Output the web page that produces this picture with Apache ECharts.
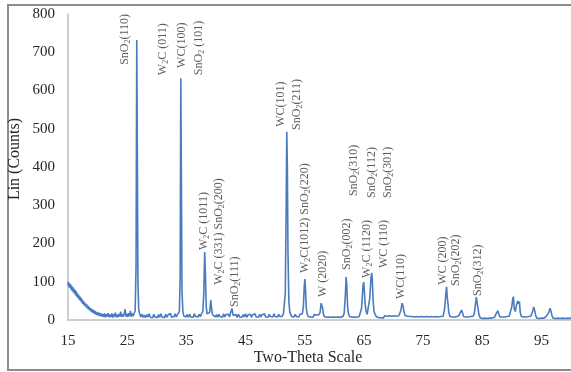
<!DOCTYPE html>
<html>
<head>
<meta charset="utf-8">
<script src="https://cdn.jsdelivr.net/npm/echarts@6/dist/echarts.min.js"></script>
<style>
  html, body { margin: 0; padding: 0; background: #ffffff; }
  #chart { width: 571px; height: 372px; }
</style>
</head>
<body>
<div id="chart"></div>
<script>
// XRD scan: [two-theta (deg), counts]
const scanLow = [
  [15.0,100],[15.1,88],[15.2,97],[15.3,84],[15.4,94],[15.5,80],[15.6,90],[15.7,76],[15.8,86],[15.9,72],
  [16.0,82],[16.1,69],[16.2,78],[16.3,64],[16.4,75],[16.5,61],[16.6,70],[16.7,57],[16.8,66],[16.9,53],
  [17.0,62],[17.1,50],[17.2,58],[17.3,46],[17.4,54],[17.5,42],[17.6,50],[17.7,39],[17.8,46],[17.9,36],
  [18.0,43],[18.1,33],[18.2,40],[18.3,30],[18.4,37],[18.5,27],[18.6,34],[18.7,25],[18.8,31],[18.9,22],
  [19.0,29],[19.1,20],[19.2,27],[19.3,18],[19.4,25],[19.5,16],[19.6,23],[19.7,14],[19.8,21],[19.9,13],
  [20.0,20],[20.15,12],[20.3,19],[20.45,10],[20.6,17],[20.75,9],[20.9,16],[21.05,8],[21.2,17],[21.35,7],
  [21.5,15],[21.65,9],[21.8,18],[21.95,7],[22.1,14],[22.25,8],[22.4,17],[22.55,6],[22.7,15],[22.85,9],
  [23.0,19],[23.15,7],[23.3,14],[23.45,8],[23.6,16],[23.75,9],[23.9,22],[24.05,8],[24.2,15],[24.35,9],
  [24.5,17],[24.65,28],[24.8,9],[24.95,16],[25.1,8],[25.25,18],[25.4,10],[25.55,24],[25.7,9],[25.85,17],
  [26.0,10],[26.15,15],[26.35,24],[26.5,140],[26.62,732],[26.72,430],[26.82,95],[26.95,28],[27.1,17],[27.3,8],
  [27.5,15],[27.7,7],[27.9,13],[28.1,6],[28.3,14],[28.5,8],[28.7,16],[28.9,7],[29.1,12],[29.3,6],
  [29.5,15],[29.7,8],[29.9,13]
];
const scanMid = [
  [30.1,6],[30.3,14],[30.5,7],[30.7,16],[30.9,8],[31.1,12],[31.3,6],[31.5,15],[31.7,7],[31.9,13],
  [32.1,8],[32.3,17],[32.5,7],[32.7,12],[32.9,9],[33.1,16],[33.3,8],[33.5,14],[33.7,12],[33.82,22],
  [33.95,110],[34.06,632],[34.16,380],[34.26,80],[34.4,24],[34.55,11],[34.75,16],[34.95,8],[35.15,14],[35.35,7],
  [35.55,15],[35.75,8],[35.95,13],[36.15,7],[36.35,16],[36.55,9],[36.75,14],[36.95,8],[37.15,15],[37.35,9],
  [37.55,16],[37.78,22],[37.95,70],[38.1,178],[38.22,120],[38.36,35],[38.5,16],[38.7,12],[38.95,20],[39.12,52],
  [39.27,30],[39.42,14],[39.55,9],[39.7,16],[39.9,8],[40.1,14],[40.3,7],[40.5,15],[40.7,9],[40.9,13],
  [41.1,7],[41.3,16],[41.5,8],[41.7,14],[41.9,9],[42.1,15],[42.3,8],[42.45,18],[42.6,14],[42.72,30],
  [42.9,12],[43.05,16],[43.2,8],[43.4,14],[43.6,7],[43.8,15],[44.0,8],[44.2,13],[44.4,7],[44.6,14],
  [44.8,8],[45.0,16],[45.2,7],[45.4,13],[45.6,8],[45.8,15],[46.0,7],[46.2,14],[46.4,9],[46.6,16],
  [46.8,8],[47.0,13],[47.2,7],[47.4,15],[47.6,8],[47.8,14],[48.0,9],[48.2,16],[48.4,8],[48.6,13],
  [48.8,7],[49.0,15],[49.2,9],[49.4,14],[49.6,8],[49.8,16],[50.0,9],[50.2,13],[50.4,8],[50.6,15],
  [50.8,9],[51.0,14],[51.2,10],[51.4,16],[51.55,20],[51.72,70],[51.87,300],[51.97,492],[52.07,400],[52.17,180],
  [52.32,50],[52.47,22],[52.6,16],[52.8,9],[53.0,14],[53.2,8],[53.4,15],[53.6,9],[53.8,13],[54.0,8],
  [54.2,15],[54.4,10],[54.6,16],[54.78,35],[54.93,90],[55.03,107],[55.13,80],[55.28,30],[55.43,15],[55.6,9],
  [55.8,14],[56.0,8],[56.2,13],[56.4,7],[56.6,14],[56.8,9],[57.0,13],[57.2,8],[57.4,14],[57.6,20],
  [57.78,44],[57.9,47],[58.02,32],[58.18,15],[58.3,9],[58.5,14],[58.7,7],[58.9,12],[59.1,8],[59.3,13],
  [59.5,7],[59.7,12],[59.9,8]
];
const scanHigh = [
  [60.1,13],[60.3,7],[60.5,12],[60.7,8],[60.9,13],[61.1,7],[61.3,12],[61.5,10],[61.67,18],[61.85,60],
  [62.0,112],[62.1,95],[62.25,35],[62.4,16],[62.6,9],[62.8,13],[63.0,7],[63.2,12],[63.4,8],[63.6,13],
  [63.8,7],[64.0,12],[64.2,9],[64.4,14],[64.6,30],[64.85,90],[64.98,99],[65.08,75],[65.22,40],[65.38,22],
  [65.55,15],[65.75,20],[65.98,55],[66.2,110],[66.32,123],[66.42,108],[66.56,50],[66.72,22],[66.9,15],[67.1,9],
  [67.3,12],[67.5,6],[67.7,11],[67.9,6],[68.1,10],[68.3,5],[68.5,11],[68.7,6],[68.9,10],[69.1,5],
  [69.3,11],[69.5,6],[69.7,10],[69.9,5],[70.1,11],[70.3,6],[70.5,10],[70.7,7],[70.9,11],[71.05,13],
  [71.25,25],[71.45,44],[71.6,38],[71.75,24],[71.95,12],[72.15,7],[72.35,10],[72.55,5],[72.75,9],[72.95,4],
  [73.15,9],[73.35,5],[73.55,8],[73.75,4],[73.95,9],[74.15,5],[74.35,8],[74.55,4],[74.75,9],[74.95,5],
  [75.15,8],[75.35,4],[75.55,9],[75.75,5],[75.95,8],[76.15,4],[76.35,9],[76.55,5],[76.75,8],[76.95,4],
  [77.15,9],[77.35,5],[77.55,8],[77.75,4],[77.95,9],[78.15,6],[78.4,10],[78.65,30],[78.85,70],[78.98,87],
  [79.08,60],[79.2,45],[79.35,20],[79.55,9],[79.75,5],[79.95,8],[80.15,4],[80.35,8],[80.55,5],[80.75,9],
  [80.95,7],[81.1,12],[81.25,18],[81.5,26],[81.65,20],[81.85,9],[82.05,5],[82.25,8],[82.45,4],[82.65,8],
  [82.85,5],[83.05,9],[83.25,6],[83.45,10],[83.65,16],[83.85,40],[84.0,60],[84.12,58],[84.25,34],[84.45,14],
  [84.65,6],[84.85,9],[85.05,4],[85.25,8],[85.45,5],[85.65,9],[85.85,4],[86.05,8],[86.25,5],[86.45,9],
  [86.65,5],[86.85,9],[87.05,7],[87.2,11],[87.4,18],[87.62,24],[87.8,16],[88.0,8],[88.2,5],[88.4,8],
  [88.6,4],[88.8,8],[89.0,5],[89.2,9],[89.4,6],[89.55,10],[89.75,15],[90.0,35],[90.15,55],[90.27,61],
  [90.4,30],[90.58,22],[90.8,40],[91.02,50],[91.14,42],[91.28,48],[91.42,20],[91.62,9],[91.82,5],[92.02,8],
  [92.22,4],[92.42,8],[92.62,5],[92.82,9],[93.02,6],[93.2,10],[93.35,14],[93.5,22],[93.7,34],[93.85,26],
  [94.05,11],[94.25,5],[94.45,8],[94.65,4],[94.85,8],[95.05,5],[95.25,9],[95.45,5],[95.65,8],[95.85,10],
  [96.05,13],[96.25,20],[96.45,31],[96.6,24],[96.8,11],[97.0,5],[97.2,8],[97.4,4],[97.6,8],[97.8,5],
  [98.0,8],[98.2,4],[98.4,8],[98.6,5],[98.8,8],[99.0,4],[99.2,8],[99.4,5],[99.6,7],[99.8,4],[100.0,6]
];

// Phase annotations ({s|..} marks a subscript) and where each one starts (two-theta, counts)
const peakNames = [
  'SnO{s|2}(110)', 'W{s|2}C (011)', 'WC(100)', 'SnO{s|2} (101)', 'W{s|2}C (1011)',
  'W{s|2}C (331) SnO{s|2}(200)', 'SnO{s|2}(111)', 'WC(101)', 'SnO{s|2}(211)',
  'W{s|2}C(1012) SnO{s|2}(220)', 'W (2020)', 'SnO{s|2}(002)', 'SnO{s|2}(310)', 'W{s|2}C (1120)',
  'SnO{s|2}(112)', 'WC (110)', 'SnO{s|2}(301)', 'WC(110)', 'WC (200)', 'SnO{s|2}(202)', 'SnO{s|2}(312)'
];
const peakNameTheta = [
  24.63, 31.05, 34.26, 37.14, 37.98,
  40.52, 43.22, 50.99, 53.70,
  55.05, 58.09, 62.14, 63.33, 65.52,
  66.37, 68.40, 69.07, 71.27, 78.37, 80.56, 84.28
];
const peakNameCounts = [
  667, 640, 659, 640, 183,
  92, 34, 505, 497,
  123, 60, 131, 324, 110,
  319, 136, 319, 55, 92, 89, 63
];

const xTicks = { min: 15, max: 100, step: 10 };
const yTicks = { min: 0, max: 800, step: 100 };

const serif = '"Liberation Serif", "Times New Roman", "DejaVu Serif", serif';
const scan = scanLow.concat(scanMid, scanHigh);
const labelData = peakNames.map((n, i) => ({ value: [peakNameTheta[i], peakNameCounts[i]], name: n }));

const chart = echarts.init(document.getElementById('chart'), null, { renderer: 'canvas' });
chart.setOption({
  animation: false,
  backgroundColor: '#ffffff',
  grid: { left: 68, top: 14, right: 0, bottom: 52 },
  xAxis: {
    type: 'value', min: xTicks.min, max: xTicks.max, interval: xTicks.step,
    axisLine: { lineStyle: { color: '#bfbfbf', width: 1.5 } },
    axisTick: { show: false },
    splitLine: { show: false },
    axisLabel: { showMaxLabel: false, color: '#262626', fontFamily: serif, fontSize: 15, margin: 14 }
  },
  yAxis: {
    type: 'value', min: yTicks.min, max: yTicks.max, interval: yTicks.step,
    axisLine: { show: true, lineStyle: { color: '#bfbfbf', width: 1.5 } },
    axisTick: { show: false },
    splitLine: { show: false },
    axisLabel: { color: '#262626', fontFamily: serif, fontSize: 15, margin: 13 }
  },
  series: [
    {
      type: 'line', data: scan, showSymbol: false, symbol: 'none',
      lineStyle: { color: '#4a7bbf', width: 1.6 }, z: 2
    },
    {
      type: 'scatter', data: labelData, symbolSize: 0, silent: true, z: 3,
      label: {
        show: true, position: 'inside', rotate: 90, align: 'left', verticalAlign: 'middle',
        formatter: p => p.name,
        color: '#333333', fontFamily: serif, fontSize: 12, lineHeight: 14,
        rich: { s: { fontSize: 8, fontFamily: serif, color: '#333333', verticalAlign: 'bottom', lineHeight: 14 } }
      }
    }
  ],
  graphic: [
    { type: 'rect', shape: { x: 8, y: 5, width: 570, height: 365 }, style: { fill: 'none', stroke: '#8c8c8c', lineWidth: 2 }, silent: true },
    { type: 'text', x: 15, y: 159, rotation: Math.PI / 2,
      style: { text: 'Lin (Counts)', fill: '#262626', font: '16px ' + serif, textAlign: 'center', textVerticalAlign: 'middle' } },
    { type: 'text', x: 308, y: 358,
      style: { text: 'Two-Theta Scale', fill: '#262626', font: '16px ' + serif, textAlign: 'center', textVerticalAlign: 'middle' } }
  ]
});
</script>
</body>
</html>
